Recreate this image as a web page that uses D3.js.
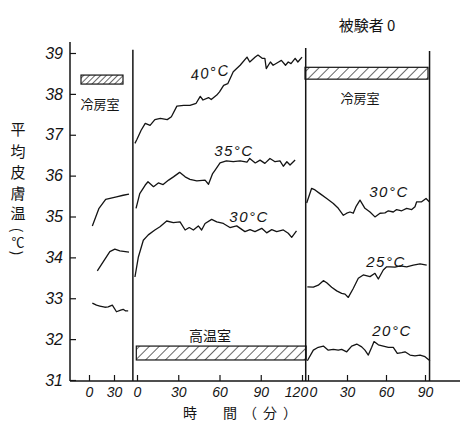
<!DOCTYPE html>
<html><head><meta charset="utf-8">
<script src="https://cdn.jsdelivr.net/npm/d3@7"></script>
<style>body{margin:0;background:#fff}svg{display:block}</style>
</head><body>
<svg id="c" width="464" height="426"></svg>
<script>
// ---- data ----
const yTicks = [31,32,33,34,35,36,37,38,39];
const sec1Ticks = [0,30];
const sec2Ticks = [0,30,60,90,120];
const sec3Ticks = [0,30,60,90];
const titleText = "被験者 0";
const yLabelChars = ["平","均","皮","膚","温"];
const xLabelText = "時　間（分）";
const roomLabels = ["冷房室","高温室","冷房室"];
const curveLabels2 = ["40°C","35°C","30°C"];
const curveLabels3 = ["30°C","25°C","20°C"];

// period 1 (cool room, before) : [minute, °C]
const pre40 = [[4,34.77],[12,35.20],[20,35.42],[33,35.48],[41,35.52],[48,35.55]];
const pre35 = [[10,33.67],[17,33.89],[25,34.14],[31,34.20],[37,34.16],[48,34.13]];
const pre30 = [[4,32.88],[9,32.83],[13,32.81],[19,32.78],[23,32.79],[28,32.83],[33,32.67],[38,32.71],[41,32.73],[44,32.69],[47,32.69]];

// period 2 (hot room)
const hot40 = [[-1.5,36.79],[0,36.89],[3,37.11],[6,37.28],[9.5,37.23],[13,37.37],[17,37.40],[22,37.37],[25,37.44],[29,37.70],
  [34,37.72],[38.5,37.72],[43,37.77],[46,37.94],[48,37.85],[52,37.91],[54,37.86],[58,37.97],[60,38.05],[63,38.21],
  [66,38.25],[70,38.54],[75,38.70],[80,38.90],[82,38.78],[86,38.90],[88,38.95],[91,38.87],[93,38.87],[94,38.62],
  [97,38.78],[99,38.70],[103,38.78],[105,38.82],[108,38.70],[110,38.78],[112,38.74],[115,38.87],[117,38.78],[120,38.90]];
const hot35 = [[-0.7,35.20],[2,35.56],[6,35.77],[8,35.85],[12,35.73],[15.5,35.82],[19,35.78],[23,35.89],[26.5,35.97],[31,36.08],
  [35,35.97],[38.5,35.91],[43.5,35.87],[49.5,35.89],[52,35.79],[55,36.05],[56.7,36.13],[60.4,36.31],[65,36.36],[70,36.34],
  [75,36.36],[80,36.33],[82,36.42],[86,36.31],[89.5,36.38],[93,36.30],[96.7,36.42],[100.4,36.34],[104,36.36],[106.4,36.23],
  [109,36.34],[111.3,36.26],[115,36.38]];
const hot30 = [[-1.5,33.52],[1,34.01],[4.6,34.42],[8.2,34.55],[13,34.67],[16.7,34.75],[21.6,34.89],[26.4,34.85],[31.3,34.87],[35,34.67],
  [38,34.73],[41,34.67],[44.6,34.77],[47,34.67],[49.5,34.83],[54.3,34.93],[58,34.87],[62.8,34.83],[67.6,34.73],[72.5,34.77],
  [78.5,34.63],[82.2,34.68],[85.8,34.63],[90.7,34.71],[94.3,34.60],[98,34.68],[101.6,34.63],[106.4,34.67],[110,34.59],[112.5,34.49],[116,34.65]];

// period 3 (cool room, after)
const cool30 = [[-1,35.33],[2.8,35.69],[5.4,35.65],[9.2,35.56],[14.4,35.44],[19.5,35.32],[23.3,35.20],[27.2,35.03],[29.8,35.08],[32.3,35.11],
  [34.8,35.08],[36.9,35.24],[40,35.40],[43.8,35.20],[47.7,35.11],[51.5,34.99],[55.4,35.08],[59.2,35.09],[61.8,35.14],[65.6,35.11],
  [68.2,35.17],[72.1,35.14],[75.9,35.20],[79.8,35.17],[82.3,35.24],[83.6,35.36],[87.4,35.36],[90.8,35.44],[93.3,35.36]];
const cool25 = [[-0.5,33.28],[4.1,33.27],[7.9,33.32],[11.8,33.43],[14.4,33.38],[18.2,33.27],[22.1,33.18],[25.9,33.12],[28.5,33.10],[31,33.02],
  [34.8,33.24],[38.7,33.49],[42.5,33.57],[47.7,33.53],[51.5,33.61],[54.1,33.47],[57.9,33.69],[60.5,33.77],[63.1,33.77],[66.9,33.76],
  [70.8,33.79],[75.9,33.77],[81,33.81],[86.2,33.84],[91.3,33.81]];
const cool20 = [[-0.5,31.47],[4.1,31.73],[7.9,31.80],[11.8,31.83],[15.6,31.73],[19.5,31.75],[23.3,31.73],[25.9,31.75],[29.8,31.69],[33.6,31.83],
  [37.5,31.88],[41.3,31.81],[43.8,31.73],[46.4,31.61],[49,31.80],[50.8,31.94],[54.1,31.86],[57.9,31.83],[61.8,31.80],[65.6,31.80],
  [68.7,31.65],[72.1,31.67],[74.6,31.69],[78.5,31.61],[82.3,31.59],[86.2,31.61],[90,31.57],[93.8,31.47]];

// ---- drawing ----
const ink = "#141414";
const numFont = "'Liberation Sans', Arial, sans-serif";
const cjkFont = "'Noto Sans CJK JP', sans-serif";
const svg = d3.select("#c");

const y  = d3.scaleLinear().domain([31,39]).range([380,53]);
const x1 = d3.scaleLinear().domain([0,30]).range([89,114]);
const x2 = d3.scaleLinear().domain([0,120]).range([137,302]);
const x3 = d3.scaleLinear().domain([0,90]).range([308,425]);

const defs = svg.append("defs");
function hatch(id, gap){
  const p = defs.append("pattern").attr("id",id).attr("patternUnits","userSpaceOnUse")
    .attr("width",gap).attr("height",gap).attr("patternTransform","rotate(45)");
  p.append("line").attr("x1",0).attr("y1",0).attr("x2",0).attr("y2",gap)
    .attr("stroke",ink).attr("stroke-width",1.3);
}
hatch("hA",4); hatch("hB",7);

// axis lines
svg.append("line").attr("x1",70).attr("x2",70).attr("y1",y(39.27)).attr("y2",y(31)+1)
  .attr("stroke",ink).attr("stroke-width",1.5);
svg.append("line").attr("x1",70).attr("x2",460).attr("y1",y(31)+1).attr("y2",y(31)+1)
  .attr("stroke",ink).attr("stroke-width",1.5);

// y axis
svg.append("g").attr("transform","translate(70,0)")
  .call(d3.axisLeft(y).tickValues(yTicks).tickSize(-6).tickPadding(7).tickFormat(d3.format("d")))
  .call(g=>g.select(".domain").remove())
  .call(g=>g.selectAll("line").attr("stroke",ink).attr("stroke-width",1.2))
  .call(g=>g.selectAll("text").attr("font-size",16).attr("font-style","italic")
      .attr("font-family",numFont).attr("fill",ink));

// x axes (label nudges keep "120" and "0" apart at the shared boundary)
[[x1,sec1Ticks,{}],[x2,sec2Ticks,{120:-6}],[x3,sec3Ticks,{0:5}]].forEach(([sc,tv,nudge])=>{
  svg.append("g").attr("transform",`translate(0,${y(31)+1})`)
    .call(d3.axisBottom(sc).tickValues(tv).tickSize(-6).tickPadding(6).tickFormat(d3.format("d")))
    .call(g=>g.select(".domain").remove())
    .call(g=>g.selectAll("line").attr("stroke",ink).attr("stroke-width",1.2))
    .call(g=>g.selectAll("text").attr("font-size",14).attr("font-style","italic")
        .attr("font-family",numFont).attr("fill",ink).attr("dx",d=>nudge[d]||0));
});

// dividers
[[x2(-3), y(39.08)],[x2(122.7), y(39.12)],[x3(93.5), y(39.05)]].forEach(([xx,yt])=>{
  svg.append("line").attr("x1",xx).attr("x2",xx).attr("y1",yt).attr("y2",y(31)+1)
    .attr("stroke",ink).attr("stroke-width",1.5);
});

// room bars
function bar(sc,t0,t1,v0,v1,pat){
  svg.append("rect").attr("x",sc(t0)).attr("width",sc(t1)-sc(t0))
    .attr("y",y(v1)).attr("height",y(v0)-y(v1))
    .attr("fill",`url(#${pat})`).attr("stroke",ink).attr("stroke-width",1.2);
}
bar(x1,-9.6,40.8,38.24,38.46,"hA");
bar(x2,-0.5,123,31.49,31.83,"hB");
bar(x3,-2.3,92.3,38.36,38.65,"hB");

// curves
const line = sc => d3.line().x(d=>sc(d[0])).y(d=>y(d[1]));
[[x1,pre40],[x1,pre35],[x1,pre30],[x2,hot40],[x2,hot35],[x2,hot30],[x3,cool30],[x3,cool25],[x3,cool20]]
  .forEach(([sc,data])=>{
    svg.append("path").attr("d",line(sc)(data)).attr("fill","none")
      .attr("stroke",ink).attr("stroke-width",1.3).attr("stroke-linejoin","round");
  });

// curve labels
function lab(txt,xx,yy,rot){
  svg.append("text").attr("transform",`translate(${xx},${yy}) rotate(${rot||0})`)
    .attr("text-anchor","middle").attr("dominant-baseline","central")
    .attr("font-family",numFont).attr("font-style","italic").attr("font-size",15)
    .attr("letter-spacing",1.5).attr("fill",ink).text(txt);
}
lab(curveLabels2[0], x2(53.1), y(38.53), -8);
lab(curveLabels2[1], x2(70.5), y(36.62));
lab(curveLabels2[2], x2(81.5), y(34.99));
lab(curveLabels3[0], x3(62.3), y(35.60));
lab(curveLabels3[1], x3(60), y(33.89));
lab(curveLabels3[2], x3(64.6), y(32.22));

// room labels
function cjk(txt,xx,yy,size,ls){
  return svg.append("text").attr("x",xx).attr("y",yy).attr("text-anchor","middle")
    .attr("dominant-baseline","central").attr("font-family",cjkFont)
    .attr("font-size",size).attr("letter-spacing",ls||0).attr("fill",ink).text(txt);
}
cjk(roomLabels[0], x1(13.2), y(37.77), 13);
cjk(roomLabels[1], x2(53.1), y(32.10), 14);
cjk(roomLabels[2], x3(40), y(37.92), 13);

// title
cjk(titleText, 367, 24, 15);

// axis titles
cjk(xLabelText, 243, 412, 14, 6);
const ys = [128,150,171,192,212];
yLabelChars.forEach((c,i)=>cjk(c,18,ys[i],15));
svg.append("text").attr("transform","translate(18,230) rotate(90)").attr("text-anchor","middle")
  .attr("dominant-baseline","central").attr("font-family",cjkFont).attr("font-size",14).attr("fill",ink).text("(");
cjk("℃",18,241,13);
svg.append("text").attr("transform","translate(18,253) rotate(90)").attr("text-anchor","middle")
  .attr("dominant-baseline","central").attr("font-family",cjkFont).attr("font-size",14).attr("fill",ink).text(")");
</script>
</body></html>
